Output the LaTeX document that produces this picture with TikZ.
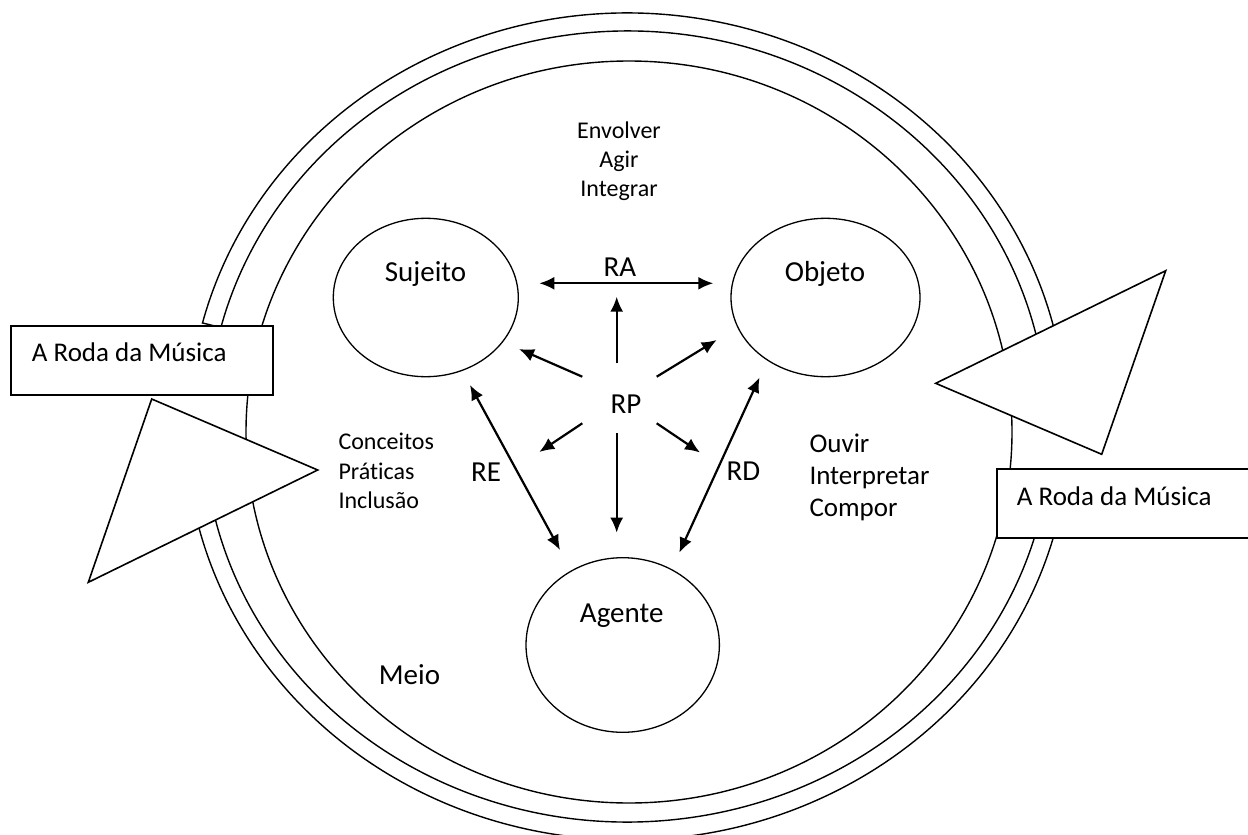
\documentclass[tikz,border=0pt]{standalone}
\usepackage{fontspec}
\setmainfont{Carlito}[Ligatures=NoCommon]
\usepackage{tikz}
\usetikzlibrary{shapes.geometric,arrows.meta}

\newcommand\txtbig{\fontsize{29}{33}\selectfont}
\newcommand\txtmid{\fontsize{27}{31.8}\selectfont}
\newcommand\txtsmall{\fontsize{24}{29.3}\selectfont}

\begin{document}
\begin{tikzpicture}[x=1pt,y=-1pt,
	ring/.style={line width=1.4pt},
	arr/.style={line width=2.2pt,-{Latex[length=15pt,width=13pt]}},
	biarr/.style={line width=2.2pt,{Latex[length=15pt,width=13pt]}-{Latex[length=15pt,width=13pt]}},
	tri/.style={draw,fill=white,line width=1.6pt},
	tag/.style={draw,fill=white,line width=1.6pt,inner sep=0pt,anchor=north west,minimum height=69pt},
	lbl/.style={inner sep=0pt,font=\txtbig}]
	\useasboundingbox (0,0) rectangle (1248,835);

	\draw [ring] (629,432) ellipse [x radius=383, y radius=371];
	\draw [ring] ([shift={(-165.5:439 and 413.5)}]627.5,426.5)
		arc [start angle=-165.5, end angle=-10, x radius=439, y radius=413.5]
		-- ([shift={(-10:420 and 395.5)}]627.5,426.5)
		arc [start angle=-10, end angle=-165.5, x radius=420, y radius=395.5] -- cycle;
	\draw [ring] ([shift={(10:442 and 413.5)}]627.5,426.5)
		arc [start angle=10, end angle=170, x radius=442, y radius=413.5]
		-- ([shift={(170:424 and 395.5)}]627.5,426.5)
		arc [start angle=170, end angle=10, x radius=424, y radius=395.5] -- cycle;

	\draw [tri] (151.7,399) -- (317.7,470) -- (88.3,582.3) -- cycle;
	\draw [tri] (1165.7,270.7) -- (935.7,383.3) -- (1101.7,454.3) -- cycle;

	\node [tag, minimum width=262.3pt] (rodaL) at (10,325) {};
	\node [tag, minimum width=270pt] (rodaR) at (996,468.3) {};
	\node [inner sep=0pt, font=\txtmid, anchor=base west] (rodaL-t) at (31.7,361) {A Roda da Música};
	\node [inner sep=0pt, font=\txtmid, anchor=base west] (rodaR-t) at (1016.7,505) {A Roda da Música};

	\begin{scope}[every node/.style={ellipse,draw,line width=1.3pt,inner sep=0pt}]
	\node [minimum width=185pt, minimum height=158.4pt] (suj) at (425.8,297.5) {};
	\node [minimum width=189pt, minimum height=158.4pt] (obj) at (825.5,297.5) {};
	\node [minimum width=193.4pt, minimum height=174.6pt] (age) at (622.7,645) {};
	\end{scope}
	\node [lbl, anchor=base] (suj-t) at (425.5,281.7) {Sujeito};
	\node [lbl, anchor=base] (obj-t) at (825,281) {Objeto};
	\node [lbl, anchor=base] (age-t) at (621.7,622.7) {Agente};

	\node [lbl, anchor=base] (ra) at (620,276.7) {RA};
	\node [lbl, anchor=base] (rp) at (626,413.3) {RP};
	\node [lbl, anchor=base] (re) at (486,481) {RE};
	\node [lbl, anchor=base] (rd) at (743.5,480) {RD};

	\node [inner sep=0pt, font=\txtsmall, align=center, anchor=base] (acao) at (619,196.7) {Envolver\\Agir\\Integrar};
	\node [inner sep=0pt, font=\txtsmall, align=left, anchor=base west] (saber) at (338.3,508.3) {Conceitos\\Práticas\\Inclusão};
	\node [inner sep=0pt, font=\txtmid, align=left, anchor=base west] (fazer) at (809.3,516) {Ouvir\\Interpretar\\Compor};
	\node [lbl, anchor=base west] (meio) at (378.7,684.3) {Meio};

	\coordinate (ra-l) at (539.3,283.3);
	\coordinate (ra-r) at (713.3,283.3);
	\coordinate (rp-n0) at (616.7,363.3);
	\coordinate (rp-n1) at (616.7,296.7);
	\coordinate (rp-nw0) at (582.3,376.7);
	\coordinate (rp-nw1) at (519,349);
	\coordinate (rp-ne0) at (656.7,376.7);
	\coordinate (rp-ne1) at (716.7,340);
	\coordinate (rp-sw0) at (582.3,423.3);
	\coordinate (rp-sw1) at (539.3,452);
	\coordinate (rp-s0) at (616.7,433.3);
	\coordinate (rp-s1) at (616.7,532.7);
	\coordinate (rp-se0) at (656.7,423.3);
	\coordinate (rp-se1) at (700,452.5);
	\coordinate (re-a) at (470,385);
	\coordinate (re-b) at (560,550);
	\coordinate (rd-a) at (759.5,377.5);
	\coordinate (rd-b) at (679.3,552.7);

	\draw [biarr] (ra-l) -- (ra-r);
	\draw [arr] (rp-n0) -- (rp-n1);
	\draw [arr] (rp-nw0) -- (rp-nw1);
	\draw [arr] (rp-ne0) -- (rp-ne1);
	\draw [arr] (rp-sw0) -- (rp-sw1);
	\draw [arr] (rp-s0) -- (rp-s1);
	\draw [arr] (rp-se0) -- (rp-se1);
	\draw [biarr] (re-a) -- (re-b);
	\draw [biarr] (rd-a) -- (rd-b);
\end{tikzpicture}
\end{document}
